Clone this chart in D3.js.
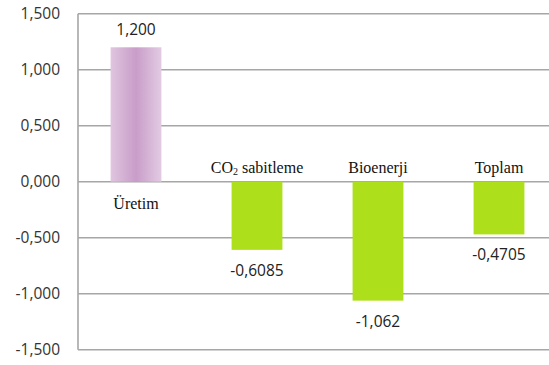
<!DOCTYPE html>
<html>
<head>
<meta charset="utf-8">
<script src="https://cdn.jsdelivr.net/npm/d3@7"></script>
<style>
  html, body { margin: 0; padding: 0; background: #fff; }
  svg { display: block; }
</style>
</head>
<body>
<svg id="chart" width="549" height="365"></svg>
<script>
// Category names and their values
const categories = ["Üretim", "CO2 sabitleme", "Bioenerji", "Toplam"];
const values = [1.2, -0.6085, -1.062, -0.4705];
const valueLabels = ["1,200", "-0,6085", "-1,062", "-0,4705"];
const tickValues = [1.5, 1.0, 0.5, 0, -0.5, -1.0, -1.5];
const tickLabels = ["1,500", "1,000", "0,500", "0,000", "-0,500", "-1,000", "-1,500"];

const W = 549, H = 365;
const svg = d3.select("#chart");

const y = d3.scaleLinear().domain([-1.5, 1.5]).range([349.7, 13.7]);
const x = d3.scaleBand().domain(categories).range([75.5, 559.5]).paddingInner(0.58).paddingOuter(0.29);

const defs = svg.append("defs");
const grad = defs.append("linearGradient").attr("id", "pinkGrad")
  .attr("x1", "0%").attr("x2", "100%").attr("y1", "0%").attr("y2", "0%");
grad.append("stop").attr("offset", "0%").attr("stop-color", "#dfc6df");
grad.append("stop").attr("offset", "50%").attr("stop-color", "#c99dc9");
grad.append("stop").attr("offset", "100%").attr("stop-color", "#e2cbe2");

const sans = "'Open Sans', 'Liberation Sans', sans-serif";
const serif = "'Liberation Serif', 'DejaVu Serif', serif";

// Horizontal gridlines
svg.append("g").selectAll("line").data(tickValues).join("line")
  .attr("x1", 78).attr("x2", W)
  .attr("y1", d => y(d)).attr("y2", d => y(d))
  .attr("stroke", "#a6a6a6").attr("stroke-width", 1.6);

// Left axis line
svg.append("line")
  .attr("x1", 78).attr("x2", 78)
  .attr("y1", y(1.5)).attr("y2", y(-1.5))
  .attr("stroke", "#a6a6a6").attr("stroke-width", 1.6);

// Y tick labels
svg.append("g").selectAll("text").data(tickValues).join("text")
  .attr("x", 60).attr("y", d => y(d))
  .attr("dy", "0.36em")
  .attr("text-anchor", "end")
  .attr("font-family", sans)
  .attr("font-size", 15.5)
  .attr("fill", "#333")
  .text((d, i) => tickLabels[i]);

// Bars
svg.append("g").selectAll("rect").data(values).join("rect")
  .attr("x", (d, i) => x(categories[i]))
  .attr("width", x.bandwidth())
  .attr("y", d => y(Math.max(0, d)))
  .attr("height", d => Math.abs(y(d) - y(0)))
  .attr("fill", d => d > 0 ? "url(#pinkGrad)" : "#addf1a");

// Value labels
svg.append("g").selectAll("text").data(values).join("text")
  .attr("x", (d, i) => x(categories[i]) + x.bandwidth() / 2)
  .attr("y", d => d > 0 ? y(d) - 12 : y(d) + 26)
  .attr("text-anchor", "middle")
  .attr("font-family", sans)
  .attr("font-size", 15.5)
  .attr("fill", "#222")
  .text((d, i) => valueLabels[i]);

// Category labels: below the baseline for positive bars, above it for negative ones
const catG = svg.append("g");
categories.forEach((c, i) => {
  const cx = x(c) + x.bandwidth() / 2;
  const t = catG.append("text")
    .attr("x", cx)
    .attr("y", values[i] > 0 ? y(0) + 27 : y(0) - 9)
    .attr("text-anchor", "middle")
    .attr("font-family", serif)
    .attr("font-size", 16)
    .attr("fill", "#111");
  if (c === "CO2 sabitleme") {
    t.append("tspan").text("CO");
    t.append("tspan").attr("font-size", 10).attr("dy", 2).text("2");
    t.append("tspan").attr("dy", -2).text(" sabitleme");
  } else {
    t.text(c);
  }
});
</script>
</body>
</html>
